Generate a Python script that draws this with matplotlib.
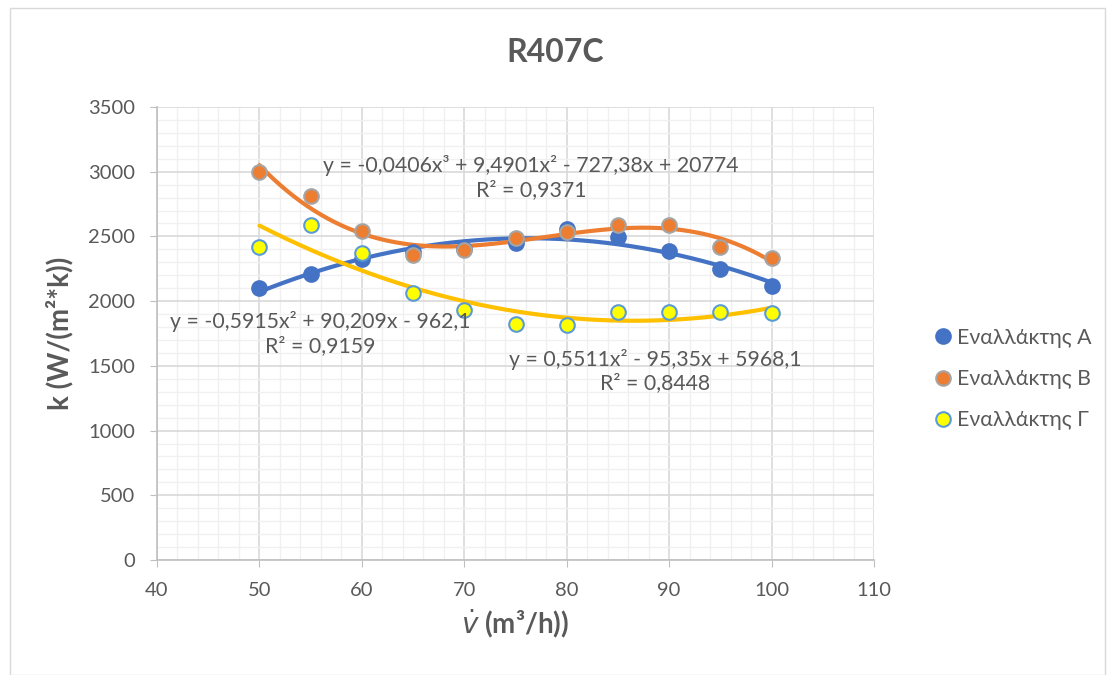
import numpy as np
import matplotlib
matplotlib.use("Agg")
import matplotlib.pyplot as plt
from matplotlib.ticker import MultipleLocator
from matplotlib.lines import Line2D
from matplotlib.patches import Rectangle

plt.rcParams['font.family'] = ['Lato', 'Noto Sans', 'DejaVu Sans']

x_vals = [50, 55, 60, 65, 70, 75, 80, 85, 90, 95, 100]
series_a = [2105, 2210, 2325, 2380, 2400, 2450, 2555, 2495, 2390, 2245, 2120]
series_b = [3000, 2815, 2540, 2355, 2395, 2485, 2535, 2585, 2585, 2420, 2330]
series_c = [2415, 2585, 2375, 2060, 1930, 1820, 1815, 1915, 1915, 1915, 1910]
names = ['Εναλλάκτης Α', 'Εναλλάκτης Β', 'Εναλλάκτης Γ']
degrees = [2, 3, 2]
eq_texts = ['y = -0,5915x² + 90,209x - 962,1\nR² = 0,9159',
            'y = -0,0406x³ + 9,4901x² - 727,38x + 20774\nR² = 0,9371',
            'y = 0,5511x² - 95,35x + 5968,1\nR² = 0,8448']
eq_pos = [(55.9, 1750), (76.5, 2955), (88.6, 1460)]

face = ['#4472C4', '#ED7D31', '#FFFF00']
edge = ['#4472C4', '#A5A5A5', '#5B9BD5']
trend = ['#4472C4', '#ED7D31', '#FFC000']
txt = '#595959'

fig = plt.figure(figsize=(11.1, 6.75), dpi=100)
fig.patches.append(Rectangle((10/1110, 0), 1 - 15/1110, 1 - 8/675, transform=fig.transFigure,
                             fill=False, edgecolor='#D9D9D9', linewidth=1))
ax = fig.add_axes([157/1110, 1 - 560/675, (874-157)/1110, (560-107)/675])

xs = np.array(x_vals, dtype=float)
xx = np.linspace(50, 100, 300)
for ys, d, tc in zip([series_a, series_b, series_c], degrees, trend):
    p = np.polyfit(xs, np.array(ys, dtype=float), d)
    ax.plot(xx, np.polyval(p, xx), color=tc, lw=3, zorder=3, solid_capstyle='round')
for ys, fc, ec in zip([series_a, series_b, series_c], face, edge):
    ax.plot(xs, ys, 'o', ms=10.5, mfc=fc, mec=ec, mew=1.5, zorder=4)

ax.set_xlim(40, 110)
ax.set_ylim(0, 3500)
ax.xaxis.set_major_locator(MultipleLocator(10))
ax.xaxis.set_minor_locator(MultipleLocator(2))
ax.yaxis.set_major_locator(MultipleLocator(500))
ax.yaxis.set_minor_locator(MultipleLocator(100))
ax.grid(which='major', color='#D9D9D9', lw=1.2, zorder=0)
ax.grid(which='minor', color='#F0F0F0', lw=1, zorder=0)
ax.set_axisbelow(True)
for s in ['top', 'right']:
    ax.spines[s].set_visible(False)
for s in ['left', 'bottom']:
    ax.spines[s].set_color('#BFBFBF')
    ax.spines[s].set_linewidth(1.2)
ax.tick_params(which='major', length=5, color='#BFBFBF', labelcolor=txt, labelsize=14.5, pad=11)
ax.tick_params(which='minor', length=0)

fig.text(555/1110, 1 - 53/675, 'R407C', ha='center', va='center', fontsize=23,
         fontweight='bold', color=txt)
ax.set_xlabel(r'$\dot{v}$ (m³/h))', fontsize=20, fontweight='bold', color=txt, labelpad=6)
ax.set_ylabel('k (W/(m²*k))', fontsize=20, fontweight='bold', color=txt, labelpad=10)

for t, (px, py) in zip(eq_texts, eq_pos):
    ax.text(px, py, t, ha='center', va='center', fontsize=15.3, color=txt,
            linespacing=1.25, zorder=5)

handles = [Line2D([], [], ls='none', marker='o', ms=10.5, mfc=fc, mec=ec, mew=1.5)
           for fc, ec in zip(face, edge)]
leg = fig.legend(handles, names, loc='center left', bbox_to_anchor=(913/1110, 1 - 379/675),
                 frameon=False, fontsize=15.3, labelspacing=1.0, handletextpad=0.15,
                 handlelength=1.0, labelcolor=txt)

fig.savefig('out.png', dpi=100)
